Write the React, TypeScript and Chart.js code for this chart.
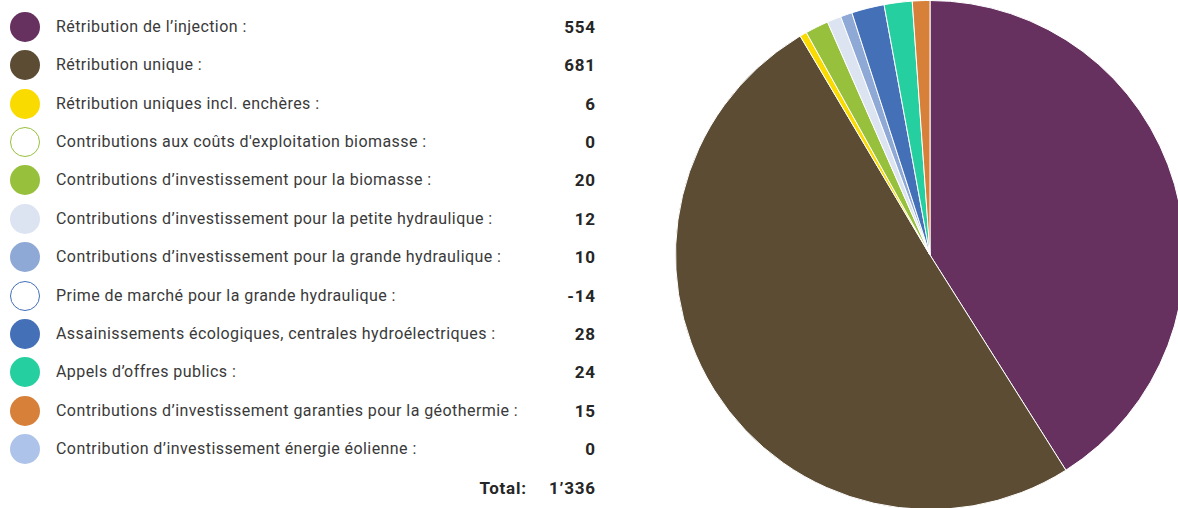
import React, { useEffect, useRef } from "react";
import { Chart, registerables } from "chart.js";

Chart.register(...registerables);

const labels = [
  "Rétribution de l’injection :",
  "Rétribution unique :",
  "Rétribution uniques incl. enchères :",
  "Contributions aux coûts d'exploitation biomasse :",
  "Contributions d’investissement pour la biomasse :",
  "Contributions d’investissement pour la petite hydraulique :",
  "Contributions d’investissement pour la grande hydraulique :",
  "Prime de marché pour la grande hydraulique :",
  "Assainissements écologiques, centrales hydroélectriques :",
  "Appels d’offres publics :",
  "Contributions d’investissement garanties pour la géothermie :",
  "Contribution d’investissement énergie éolienne :",
];
const values = [554, 681, 6, 0, 20, 12, 10, -14, 28, 24, 15, 0];
const colors = [
  "#66305f",
  "#5c4c33",
  "#fadb00",
  "#97c13c",
  "#97c13c",
  "#dce3f1",
  "#8fa9d6",
  "#4470b8",
  "#4470b8",
  "#26cf9f",
  "#d6803a",
  "#aec3e9",
];
const hollow = [false, false, false, true, false, false, false, true, false, false, false, false];
const totalLabel = "Total:";

const fmt = (n: number) => String(n).replace(/\B(?=(\d{3})+(?!\d))/g, "’");

export default function App() {
  const ref = useRef<HTMLCanvasElement | null>(null);
  useEffect(() => {
    if (!ref.current) return;
    const pieValues = values.map((v) => Math.max(v, 0));
    const chart = new Chart(ref.current, {
      type: "pie",
      data: {
        labels,
        datasets: [
          {
            data: pieValues,
            backgroundColor: colors,
            borderColor: "#ffffff",
            borderWidth: 1,
            hoverOffset: 0,
          },
        ],
      },
      options: {
        animation: false,
        responsive: false,
        maintainAspectRatio: false,
        layout: { padding: 0 },
        plugins: { legend: { display: false }, tooltip: { enabled: false } },
      },
    });
    return () => chart.destroy();
  }, []);

  const total = values.reduce((a, b) => a + b, 0);
  const rowH = 38.36;
  const y0 = 27;
  const font = "Roboto, 'Noto Sans', sans-serif";
  const ls = 0.75;

  const boldStyle: React.CSSProperties = {
    position: "absolute",
    height: 20,
    lineHeight: "20px",
    fontSize: 17,
    fontWeight: 700,
    letterSpacing: ls,
    color: "#262626",
    whiteSpace: "nowrap",
  };

  return (
    <div
      style={{
        position: "fixed",
        left: 0,
        top: 0,
        width: 1178,
        height: 508,
        overflow: "hidden",
        background: "#fff",
        fontFamily: font,
      }}
    >
      {labels.map((l, i) => {
        const cy = y0 + i * rowH;
        return (
          <React.Fragment key={i}>
            <div
              style={{
                position: "absolute",
                left: 10,
                top: cy - 15,
                width: 30,
                height: 30,
                borderRadius: "50%",
                boxSizing: "border-box",
                background: hollow[i] ? "#fff" : colors[i],
                border: hollow[i] ? `1.3px solid ${colors[i]}` : "none",
              }}
            />
            <div
              style={{
                position: "absolute",
                left: 56,
                top: cy - 10,
                height: 20,
                lineHeight: "20px",
                fontSize: 16,
                letterSpacing: 0.43,
                color: "#3a3a3a",
                whiteSpace: "nowrap",
              }}
            >
              {l}
            </div>
            <div style={{ ...boldStyle, right: 1178 - 595 - ls, top: cy - 10 }}>{fmt(values[i])}</div>
          </React.Fragment>
        );
      })}
      <div style={{ ...boldStyle, right: 1178 - 526 - ls, top: 488 - 10 }}>{totalLabel}</div>
      <div style={{ ...boldStyle, right: 1178 - 595 - ls, top: 488 - 10 }}>{fmt(total)}</div>
      <canvas
        ref={ref}
        width={510}
        height={510}
        style={{ position: "absolute", left: 675, top: 0, width: 510, height: 510 }}
      />
    </div>
  );
}
